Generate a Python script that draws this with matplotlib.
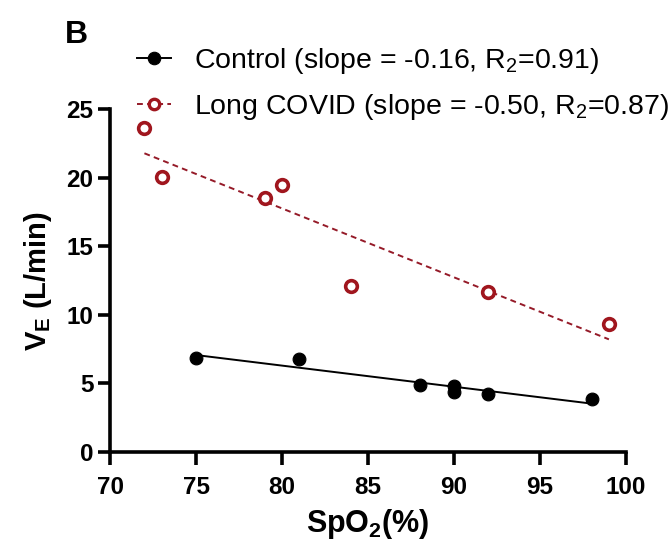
import matplotlib
matplotlib.use('Agg')
import matplotlib.pyplot as plt
from matplotlib.lines import Line2D
import numpy as np

plt.rcParams['font.family'] = ['Liberation Sans', 'DejaVu Sans']
plt.rcParams['mathtext.fontset'] = 'custom'
plt.rcParams['mathtext.rm'] = 'Liberation Sans'
plt.rcParams['mathtext.it'] = 'Liberation Sans'
plt.rcParams['mathtext.bf'] = 'Liberation Sans:bold'

# data
control_spo2 = [75, 81, 88, 90, 90, 92, 98]
control_ve = [6.85, 6.8, 4.9, 4.8, 4.35, 4.25, 3.85]
covid_spo2 = [72, 73, 79, 80, 84, 92, 99]
covid_ve = [23.65, 20.05, 18.5, 19.5, 12.1, 11.7, 9.35]

control_label = 'Control (slope = -0.16, R$_2$=0.91)'
covid_label = 'Long COVID (slope = -0.50, R$_2$=0.87)'
red = '#A0161E'
dash = (0, (3.0, 2.2))

fig = plt.figure(figsize=(6.72, 5.43), dpi=100)
ax = fig.add_axes([0.1637, 0.1676, 0.768, 0.631])

# regression lines over the range of each group
for xs, ys, col, ls, lw in [(control_spo2, control_ve, 'black', '-', 1.4),
                            (covid_spo2, covid_ve, '#951A28', dash, 1.4)]:
    xs = np.array(xs)
    k, b = np.polyfit(xs, ys, 1)
    xx = np.array([xs.min(), xs.max()])
    ax.plot(xx, k * xx + b, color=col, lw=lw, ls=ls, zorder=2)

ax.plot(control_spo2, control_ve, 'o', color='black', ms=9.2, mew=0.8, zorder=3)
ax.plot(covid_spo2, covid_ve, 'o', mfc='white', mec=red, mew=2.6, ms=8.4, zorder=3)

ax.set_xlim(70, 100)
ax.set_ylim(0, 25)
ax.set_xticks(range(70, 101, 5))
ax.set_yticks(range(0, 26, 5))
for s in ['top', 'right']:
    ax.spines[s].set_visible(False)
for s in ['left', 'bottom']:
    ax.spines[s].set_linewidth(2.6)
ax.tick_params(width=2.6, length=9, labelsize=17.5)
ax.tick_params(axis='x', pad=8)
ax.tick_params(axis='y', pad=3)
for t in ax.get_xticklabels() + ax.get_yticklabels():
    t.set_fontweight('bold')

ax.set_xlabel(r'SpO$_\mathbf{2}$(%)', fontsize=22, fontweight='bold', labelpad=6)
ax.set_ylabel(r'V$_\mathbf{E}$ (L/min)', fontsize=21, fontweight='bold', labelpad=9)

handles = [
    Line2D([], [], color='black', lw=1.4, marker='o', ms=9, mew=0.8),
    Line2D([], [], color='#951A28', lw=1.4, ls=dash, marker='o', ms=7.5,
           mfc='white', mec=red, mew=2.4),
]
fig.legend(handles, [control_label, covid_label], loc='upper left',
           bbox_to_anchor=(0.204, 0.915), frameon=False, fontsize=20.5,
           borderpad=0, borderaxespad=0,
           handlelength=1.2, handletextpad=0.8, labelspacing=0.55)

fig.text(0.097, 0.936, 'B', fontsize=23, fontweight='bold', ha='left', va='center')

fig.savefig('out.png', dpi=100)
